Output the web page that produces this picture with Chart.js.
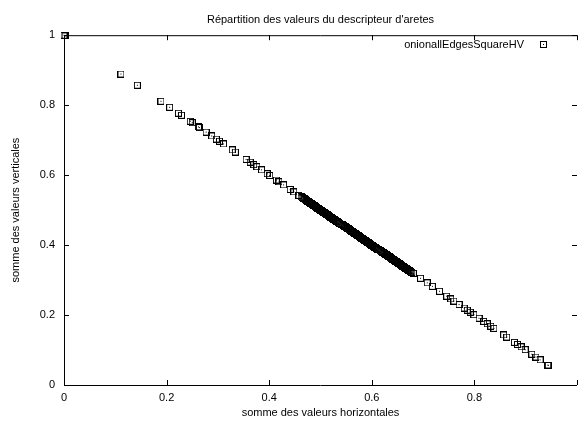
<!DOCTYPE html>
<html>
<head>
<meta charset="utf-8">
<script src="https://cdn.jsdelivr.net/npm/chart.js@4/dist/chart.umd.min.js"></script>
<style>
  body { margin: 0; background: #fff; }
  canvas { display: block; }
</style>
</head>
<body>
<canvas id="chart" width="578" height="426"></canvas>
<script>
// Données
const serieLabel = "onionallEdgesSquareHV";

const xHaut = [0, 0.002, 0.111, 0.143, 0.189, 0.206, 0.223, 0.229, 0.246, 0.25, 0.262, 0.264, 0.277, 0.288, 0.297, 0.303, 0.311, 0.328, 0.334, 0.355, 0.363, 0.370, 0.376, 0.385, 0.396, 0.401, 0.414, 0.419, 0.428, 0.441, 0.448, 0.458];
const yHaut = [1, 0.998, 0.889, 0.857, 0.811, 0.794, 0.777, 0.771, 0.754, 0.75, 0.738, 0.736, 0.723, 0.712, 0.703, 0.697, 0.689, 0.672, 0.666, 0.645, 0.637, 0.630, 0.624, 0.615, 0.604, 0.599, 0.586, 0.581, 0.572, 0.559, 0.552, 0.542];

// bande dense au centre
const xMilieu = [0.462, 0.464, 0.466, 0.468, 0.470, 0.472, 0.474, 0.476, 0.478, 0.480, 0.482, 0.484, 0.486, 0.488, 0.490, 0.492, 0.494, 0.496, 0.498, 0.500, 0.502, 0.504, 0.506, 0.508, 0.510, 0.512, 0.514, 0.516, 0.518, 0.520, 0.522, 0.524, 0.526, 0.528, 0.530, 0.532, 0.534, 0.536, 0.538, 0.540, 0.542, 0.544, 0.546, 0.548, 0.550, 0.552, 0.554, 0.556, 0.558, 0.560, 0.562, 0.564, 0.566, 0.568, 0.570, 0.572, 0.574, 0.576, 0.578, 0.580, 0.582, 0.584, 0.586, 0.588, 0.590, 0.592, 0.594, 0.596, 0.598, 0.600, 0.602, 0.604, 0.606, 0.608, 0.610, 0.612, 0.614, 0.616, 0.618, 0.620, 0.622, 0.624, 0.626, 0.628, 0.630, 0.632, 0.634, 0.636, 0.638, 0.640, 0.642, 0.644, 0.646, 0.648, 0.650, 0.652, 0.654, 0.656, 0.658, 0.660, 0.662, 0.664, 0.666, 0.668, 0.670, 0.672, 0.674, 0.676, 0.678, 0.681];
const yMilieu = [0.538, 0.536, 0.534, 0.532, 0.530, 0.528, 0.526, 0.524, 0.522, 0.520, 0.518, 0.516, 0.514, 0.512, 0.510, 0.508, 0.506, 0.504, 0.502, 0.500, 0.498, 0.496, 0.494, 0.492, 0.490, 0.488, 0.486, 0.484, 0.482, 0.480, 0.478, 0.476, 0.474, 0.472, 0.470, 0.468, 0.466, 0.464, 0.462, 0.460, 0.458, 0.456, 0.454, 0.452, 0.450, 0.448, 0.446, 0.444, 0.442, 0.440, 0.438, 0.436, 0.434, 0.432, 0.430, 0.428, 0.426, 0.424, 0.422, 0.420, 0.418, 0.416, 0.414, 0.412, 0.410, 0.408, 0.406, 0.404, 0.402, 0.400, 0.398, 0.396, 0.394, 0.392, 0.390, 0.388, 0.386, 0.384, 0.382, 0.380, 0.378, 0.376, 0.374, 0.372, 0.370, 0.368, 0.366, 0.364, 0.362, 0.360, 0.358, 0.356, 0.354, 0.352, 0.350, 0.348, 0.346, 0.344, 0.342, 0.340, 0.338, 0.336, 0.334, 0.332, 0.330, 0.328, 0.326, 0.324, 0.322, 0.319];

const xBas = [0.695, 0.708, 0.718, 0.732, 0.746, 0.754, 0.760, 0.770, 0.780, 0.786, 0.792, 0.799, 0.809, 0.818, 0.825, 0.832, 0.838, 0.857, 0.863, 0.878, 0.884, 0.891, 0.899, 0.912, 0.920, 0.928, 0.943, 0.944];
const yBas = [0.305, 0.292, 0.282, 0.268, 0.254, 0.246, 0.240, 0.230, 0.220, 0.214, 0.208, 0.201, 0.191, 0.182, 0.175, 0.168, 0.162, 0.143, 0.137, 0.122, 0.116, 0.109, 0.101, 0.088, 0.080, 0.072, 0.057, 0.056];

const xTicks = [0, 0.2, 0.4, 0.6, 0.8, 1];
const yTicks = [0, 0.2, 0.4, 0.6, 0.8, 1];

const police = "'Liberation Sans', Arial, Helvetica, sans-serif";

const xs = xHaut.concat(xMilieu, xBas);
const ys = yHaut.concat(yMilieu, yBas);
const points = xs.map((x, i) => ({ x: x, y: ys[i] }));

// Symbole gnuplot : carré vide avec un point au centre
const carre = document.createElement("canvas");
carre.width = 7;
carre.height = 7;
const cc = carre.getContext("2d");
cc.strokeStyle = "#000";
cc.lineWidth = 1;
cc.strokeRect(0.5, 0.5, 6, 6);
cc.fillStyle = "#000";
cc.fillRect(3, 3, 1, 1);

// Cadre, graduations internes et légende
const cadre = {
  id: "cadre",
  afterDraw(chart) {
    const ctx = chart.ctx;
    const a = chart.chartArea;
    const sx = chart.scales.x;
    const sy = chart.scales.y;
    ctx.save();
    ctx.strokeStyle = "#000";
    ctx.lineWidth = 1;
    ctx.beginPath();
    ctx.moveTo(a.left + 0.5, a.bottom + 0.5);
    ctx.lineTo(a.left + 0.5, a.top + 0.5);
    ctx.lineTo(a.right, a.top + 0.5);
    ctx.moveTo(a.left, a.bottom + 0.5);
    ctx.lineTo(a.right, a.bottom + 0.5);
    xTicks.forEach(v => {
      const px = Math.round(sx.getPixelForValue(v)) + 0.5;
      ctx.moveTo(px, a.bottom);
      ctx.lineTo(px, a.bottom - 5);
      ctx.moveTo(px, a.top);
      ctx.lineTo(px, a.top + 5);
    });
    yTicks.forEach(v => {
      const py = Math.round(sy.getPixelForValue(v)) + 0.5;
      ctx.moveTo(a.left, py);
      ctx.lineTo(a.left + 5, py);
      ctx.moveTo(a.right, py);
      ctx.lineTo(a.right - 5, py);
    });
    ctx.stroke();

    ctx.fillStyle = "#000";
    ctx.font = "11px " + police;
    ctx.textAlign = "right";
    ctx.textBaseline = "middle";
    ctx.fillText(chart.data.datasets[0].label, 524, 45);
    ctx.drawImage(carre, 540, 41);
    ctx.restore();
  }
};

new Chart(document.getElementById("chart"), {
  type: "scatter",
  data: {
    datasets: [
      {
        label: serieLabel,
        data: points,
        pointStyle: carre,
        pointRadius: 3.5,
        pointHoverRadius: 3.5,
        clip: false
      }
    ]
  },
  options: {
    responsive: false,
    animation: false,
    events: [],
    layout: { autoPadding: false, padding: { left: 0, right: 1, top: 0, bottom: 0 } },
    plugins: {
      legend: { display: false },
      tooltip: { enabled: false },
      title: {
        display: true,
        text: "Répartition des valeurs du descripteur d'aretes",
        fullSize: false,
        color: "#000",
        font: { family: police, size: 11, weight: "normal" },
        padding: { top: 13, bottom: 9 }
      }
    },
    scales: {
      x: {
        type: "linear",
        min: 0,
        max: 1,
        afterBuildTicks: s => { s.ticks = xTicks.map(v => ({ value: v })); },
        afterFit: s => {
          s.height = 41;
          s.paddingLeft = 0;
          s.paddingRight = 0;
        },
        grid: { display: false, drawTicks: false },
        border: { display: false },
        ticks: {
          color: "#000",
          font: { family: police, size: 11 },
          padding: 6,
          maxRotation: 0,
          callback: v => (v === 1 ? "" : String(v))
        },
        title: {
          display: true,
          text: "somme des valeurs horizontales",
          color: "#000",
          font: { family: police, size: 11 },
          padding: { top: 0, bottom: 6 }
        }
      },
      y: {
        type: "linear",
        min: 0,
        max: 1,
        afterBuildTicks: s => { s.ticks = yTicks.map(v => ({ value: v })); },
        afterFit: s => {
          s.width = 64;
          s.paddingTop = 0;
          s.paddingBottom = 0;
        },
        grid: { display: false, drawTicks: false },
        border: { display: false },
        ticks: {
          color: "#000",
          font: { family: police, size: 11 },
          padding: 9,
          callback: v => String(v)
        },
        title: {
          display: true,
          text: "somme des valeurs verticales",
          color: "#000",
          font: { family: police, size: 11 },
          padding: { top: 9, bottom: 9 }
        }
      }
    }
  },
  plugins: [cadre]
});
</script>
</body>
</html>
